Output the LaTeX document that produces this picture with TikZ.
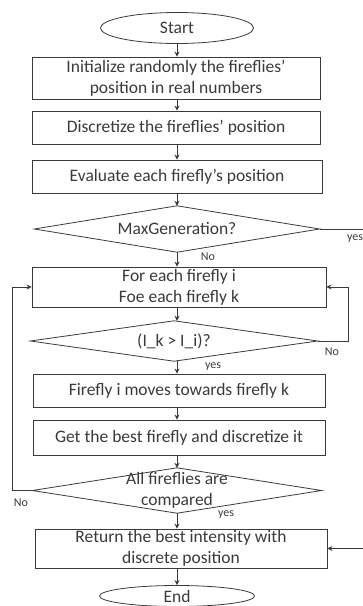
\documentclass[tikz,border=0pt]{standalone}
\usepackage{fontspec}
\setmainfont{Carlito}
\usetikzlibrary{arrows.meta,shapes.geometric}
\definecolor{ink}{HTML}{3A3A3A}
\begin{document}
\begin{tikzpicture}[x=1pt,y=-1pt,
  every node/.style={text=ink,font=\fontsize{17.5}{21}\selectfont},
  box/.style={draw=ink,line width=0.8pt,rectangle,inner sep=0pt,align=center},
  term/.style={draw=ink,line width=0.8pt,ellipse,inner sep=0pt},
  dec/.style={rectangle,inner sep=0pt,align=center},
  lab/.style={font=\fontsize{12}{14}\selectfont},
  conn/.style={draw=ink,line width=0.8pt,-{Stealth[length=5pt,width=5pt]}},
  plain/.style={draw=ink,line width=0.8pt}]
\useasboundingbox (0,0) rectangle (363,606);
\node[term,minimum width=153pt,minimum height=31pt] (start) at (177,28) {Start};
\node[box,minimum width=288pt,minimum height=42pt] (b1) at (176,78) {Initialize randomly the fireflies'\\position in real numbers};
\node[box,minimum width=288pt,minimum height=33pt] (b2) at (176,127.5) {Discretize the fireflies' position};
\node[box,minimum width=290pt,minimum height=33pt] (b3) at (177,176.5) {Evaluate each firefly's position};
\node[dec,minimum width=285pt,minimum height=46pt] (d1) at (177,229) {MaxGeneration?};
\node[box,minimum width=294pt,minimum height=40pt] (b4) at (179,287) {For each firefly i\\Foe each firefly k};
\node[dec,minimum width=287pt,minimum height=40pt] (d2) at (174,341) {(I\_k > I\_i)?};
\node[box,minimum width=292pt,minimum height=33pt] (b5) at (179,390.5) {Firefly i moves towards firefly k};
\node[box,minimum width=292pt,minimum height=35pt] (b6) at (179,437.5) {Get the best firefly and discretize it};
\node[dec,minimum width=289pt,minimum height=45pt] (d3) at (177,490.5) {All fireflies are\\compared};
\node[box,minimum width=292pt,minimum height=39pt] (b7) at (181,548.5) {Return the best intensity with\\discrete position};
\node[term,minimum width=155pt,minimum height=21pt] (end) at (177,596) {End};
\foreach \d in {d1,d2,d3}
  \draw[plain] (\d.north) -- (\d.east) -- (\d.south) -- (\d.west) -- cycle;
\coordinate (ax) at (177,0);
\draw[conn] (start.south) -- (start.south |- b1.north);
\draw[conn] (ax |- b1.south) -- (ax |- b2.north);
\draw[conn] (ax |- b2.south) -- (ax |- b3.north);
\draw[conn] (ax |- b3.south) -- (d1.north);
\draw[conn] (d1.south) -- (d1.south |- b4.north);
\draw[conn] (ax |- b4.south) -- (ax |- d2.north);
\draw[conn] (ax |- d2.south) -- (ax |- b5.north);
\draw[conn] (ax |- b5.south) -- (ax |- b6.north);
\draw[conn] (ax |- b6.south) -- (d3.north);
\draw[conn] (d3.south) -- (d3.south |- b7.north);
\draw[conn] (ax |- b7.south) -- (ax |- end.north);
\coordinate (rl) at (348,0);
\coordinate (ll) at (12,0);
\coordinate (fr) at (364,0);
\draw[conn] (d2.east) -- (rl |- d2.east) -- (rl |- b4.east) -- (b4.east);
\draw[conn] (d3.west) -- (ll |- d3.west) -- (ll |- b4.west) -- (b4.west);
\draw[conn] (d1.east) -- (fr |- d1.east) -- (fr |- b7.east) -- (b7.east);
\node[lab] (y1) at (355,239) {yes};
\node[lab] (n1) at (208,257) {No};
\node[lab] (n2) at (332,352) {No};
\node[lab] (y2) at (213,367) {yes};
\node[lab] (n3) at (21,503) {No};
\node[lab] (y3) at (226,515) {yes};
\end{tikzpicture}
\end{document}
